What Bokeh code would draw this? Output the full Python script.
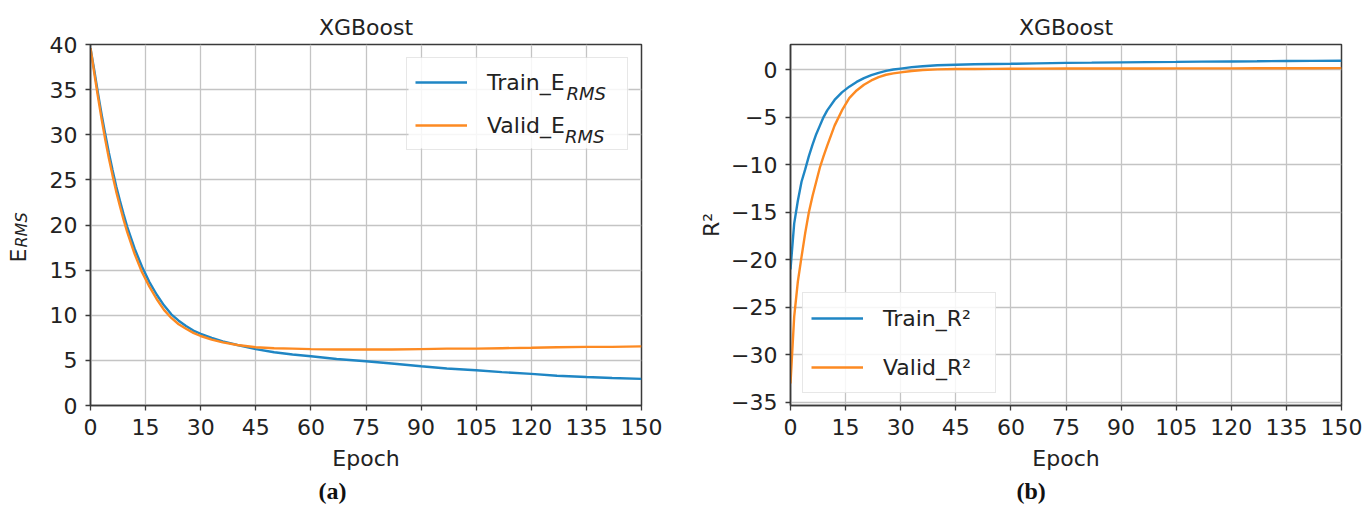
import math
from bokeh.plotting import figure
from bokeh.layouts import row
from bokeh.models import (ColumnDataSource, FixedTicker, Legend, LegendItem, Label, Title, Range1d,
                          BoxAnnotation)
from bokeh.embed import file_html
from bokeh.resources import INLINE

# ---------------- data ----------------
epochs = [0, 1, 2, 3, 4, 5, 6, 7, 8, 9, 10, 12, 14, 16, 18, 20, 22, 24, 26, 28, 30,
          33, 36, 40, 45, 50, 55, 60, 67, 75, 82, 90, 97, 105, 112, 120, 127, 135, 142, 150]

train_erms = [39.6, 37.2, 34.7, 32.3, 30.1, 28.0, 26.1, 24.3, 22.7, 21.2, 19.8, 17.4, 15.4,
              13.7, 12.3, 11.1, 10.1, 9.4, 8.8, 8.3, 7.95, 7.5, 7.1, 6.7, 6.25, 5.9, 5.65,
              5.45, 5.15, 4.9, 4.65, 4.35, 4.1, 3.9, 3.7, 3.5, 3.3, 3.15, 3.05, 2.95]
valid_erms = [39.6, 36.9, 34.3, 31.8, 29.5, 27.4, 25.5, 23.7, 22.1, 20.6, 19.2, 16.8, 14.8,
              13.2, 11.8, 10.6, 9.7, 9.0, 8.5, 8.05, 7.7, 7.3, 7.0, 6.7, 6.45, 6.35, 6.3,
              6.25, 6.2, 6.2, 6.2, 6.25, 6.3, 6.3, 6.35, 6.4, 6.45, 6.5, 6.5, 6.55]

train_r2 = [-21.0, -16.2, -13.8, -11.8, -10.5, -9.1, -7.9, -6.8, -5.9, -5.0, -4.3, -3.2, -2.4,
            -1.8, -1.3, -0.9, -0.6, -0.35, -0.15, 0.0, 0.1, 0.25, 0.35, 0.45, 0.5, 0.55, 0.58,
            0.6, 0.65, 0.7, 0.72, 0.75, 0.78, 0.8, 0.83, 0.85, 0.87, 0.9, 0.91, 0.92]
valid_r2 = [-33.0, -26.0, -22.3, -19.7, -17.2, -15.0, -13.3, -11.8, -10.3, -9.1, -8.0, -5.9, -4.3,
            -3.0, -2.2, -1.6, -1.15, -0.8, -0.55, -0.4, -0.3, -0.15, -0.05, 0.02, 0.05, 0.06, 0.07,
            0.08, 0.09, 0.1, 0.1, 0.1, 0.11, 0.12, 0.12, 0.12, 0.13, 0.13, 0.14, 0.15]

x_ticks = [0, 15, 30, 45, 60, 75, 90, 105, 120, 135, 150]
erms_ticks = [0, 5, 10, 15, 20, 25, 30, 35, 40]
r2_ticks = [0, -5, -10, -15, -20, -25, -30, -35]
r2_tick_labels = ["0", "\u22125", "\u221210", "\u221215", "\u221220", "\u221225", "\u221230", "\u221235"]

title_text = "XGBoost"
x_label = "Epoch"

# ---------------- style ----------------
BLUE = "#1f86c4"
ORANGE = "#fd8a22"
FONT = "DejaVu Sans"
FS = "22px"
TXT = "#222222"

FRAME_W = 551
FRAME_H = 361
X_MIN, X_MAX = 0, 150
YA_MIN, YA_MAX = 0, 40


def style(p):
    p.outline_line_color = "#3a3a3a"
    p.outline_line_width = 1.5
    for ax in (p.xaxis[0], p.yaxis[0]):
        ax.axis_line_color = "#3a3a3a"
        ax.axis_line_width = 1.5
        ax.major_tick_in = 0
        ax.major_tick_out = 5
        ax.major_tick_line_color = "#3a3a3a"
        ax.major_tick_line_width = 1.3
        ax.minor_tick_line_color = None
        ax.major_label_text_font = FONT
        ax.major_label_text_font_size = FS
        ax.major_label_text_color = TXT
        ax.major_label_standoff = 8
        ax.axis_label_text_font = FONT
        ax.axis_label_text_font_size = FS
        ax.axis_label_text_font_style = "normal"
        ax.axis_label_text_color = TXT
    for g in (p.xgrid[0], p.ygrid[0]):
        g.grid_line_color = "#c4c4c4"
        g.grid_line_width = 1.3
    p.title.text_font = FONT
    p.title.text_font_size = FS
    p.title.text_font_style = "normal"
    p.title.text_color = TXT
    p.title.align = "center"
    p.xaxis[0].ticker = FixedTicker(ticks=x_ticks)
    p.xaxis[0].axis_label = x_label
    p.xaxis[0].axis_label_standoff = 8


def make_legend(items, location, margin, label_width, label_height, spacing, bg_alpha):
    lg = Legend(items=items, location=location, margin=margin, padding=8,
                glyph_width=52, glyph_height=label_height, label_height=label_height,
                label_width=label_width, label_standoff=20, spacing=spacing,
                label_text_font=FONT, label_text_font_size=FS, label_text_color=TXT,
                border_line_color="#d0d0d0", border_line_width=1.2,
                background_fill_color="white", background_fill_alpha=bg_alpha)
    return lg


def sub_label(x, y, text, size="18px", angle=0.0, units="data", color=TXT):
    return Label(x=x, y=y, x_units=units, y_units=units, text=text, angle=angle,
                 text_font=FONT, text_font_size=size, text_font_style="italic",
                 text_color=color, text_baseline="alphabetic", level="overlay")


# pixel -> data helpers for panel (a) (frame-relative pixel offsets)
def ax_x(px):
    return X_MIN + px * (X_MAX - X_MIN) / FRAME_W


def ax_y(px_from_top):
    return YA_MAX - px_from_top * (YA_MAX - YA_MIN) / FRAME_H


# ---------------- panel (a) ----------------
src_a = ColumnDataSource(dict(epoch=epochs, train=train_erms, valid=valid_erms))
p1 = figure(frame_width=FRAME_W, frame_height=FRAME_H, output_backend="svg", toolbar_location=None,
            x_range=Range1d(X_MIN, X_MAX), y_range=Range1d(YA_MIN, YA_MAX), title=title_text,
            min_border_left=90, min_border_right=40, min_border_top=44, min_border_bottom=121)
style(p1)
p1.yaxis[0].ticker = FixedTicker(ticks=erms_ticks)

# legend geometry (pixels, relative to the frame)
LA_MARGIN, LA_PAD, LA_GLYPH, LA_STAND, LA_LABW, LA_LABH, LA_SPACE = 13, 8, 52, 20, 132, 32, 11
la_w = 2 * LA_PAD + LA_GLYPH + LA_STAND + LA_LABW
la_h = 2 * LA_PAD + 2 * LA_LABH + LA_SPACE
la_right = FRAME_W - LA_MARGIN
la_left = la_right - la_w
# white backing for the legend so that the subscript labels can sit on top
p1.add_layout(BoxAnnotation(left=ax_x(la_left), right=ax_x(la_right),
                            top=ax_y(LA_MARGIN), bottom=ax_y(LA_MARGIN + la_h),
                            fill_color="white", fill_alpha=0.85, line_color=None,
                            level="underlay"))

r1 = p1.line("epoch", "train", source=src_a, line_color=BLUE, line_width=2.4)
r2 = p1.line("epoch", "valid", source=src_a, line_color=ORANGE, line_width=2.4)
leg1 = make_legend([LegendItem(label="Train_E", renderers=[r1]),
                    LegendItem(label="Valid_E", renderers=[r2])],
                   "top_right", LA_MARGIN, LA_LABW, LA_LABH, LA_SPACE, 0.0)
p1.add_layout(leg1)

# subscripts in legend (E_RMS)
text_x0 = la_left + LA_PAD + LA_GLYPH + LA_STAND
row1_base = LA_MARGIN + LA_PAD + LA_LABH / 2 + 12
p1.add_layout(sub_label(ax_x(text_x0 + 78), ax_y(row1_base), "RMS"))
p1.add_layout(sub_label(ax_x(text_x0 + 76.5), ax_y(row1_base + LA_LABH + LA_SPACE), "RMS"))

# y axis label E_RMS (rotated), in side panels so that it is not clipped
p1.add_layout(Label(x=-3, y=143, x_units="screen", y_units="screen", text="E",
                    angle=math.pi / 2, text_font=FONT, text_font_size=FS, text_color=TXT,
                    text_baseline="alphabetic"), "left")
p1.add_layout(sub_label(19, 158, "RMS", size="16px", angle=math.pi / 2, units="screen"), "left")

p1.add_layout(Title(text="(a)", align="left", offset=228, text_font="Liberation Serif",
                    text_font_size="24px", text_font_style="bold", text_color="#111111",
                    standoff=4), "below")

# ---------------- panel (b) ----------------
src_b = ColumnDataSource(dict(epoch=epochs, train=train_r2, valid=valid_r2))
p2 = figure(frame_width=FRAME_W, frame_height=FRAME_H, output_backend="svg", toolbar_location=None,
            x_range=Range1d(X_MIN, X_MAX), y_range=Range1d(-35.32, 2.63), title=title_text,
            min_border_left=109, min_border_right=22, min_border_top=44, min_border_bottom=121)
style(p2)
p2.yaxis[0].ticker = FixedTicker(ticks=r2_ticks)
p2.yaxis[0].major_label_overrides = {t: s for t, s in zip(r2_ticks, r2_tick_labels)}
p2.yaxis[0].axis_label = "R\u00b2"
p2.yaxis[0].axis_label_standoff = 4
s1 = p2.line("epoch", "train", source=src_b, line_color=BLUE, line_width=2.4)
s2 = p2.line("epoch", "valid", source=src_b, line_color=ORANGE, line_width=2.4)
leg2 = make_legend([LegendItem(label="Train_R\u00b2", renderers=[s1]),
                    LegendItem(label="Valid_R\u00b2", renderers=[s2])],
                   "bottom_left", 12, 104, 34, 15, 0.85)
p2.add_layout(leg2)
p2.add_layout(Title(text="(b)", align="left", offset=226, text_font="Liberation Serif",
                    text_font_size="24px", text_font_style="bold", text_color="#111111",
                    standoff=4), "below")

layout = row(p1, p2, spacing=0)
open("out.html", "w").write(file_html(layout, INLINE))
